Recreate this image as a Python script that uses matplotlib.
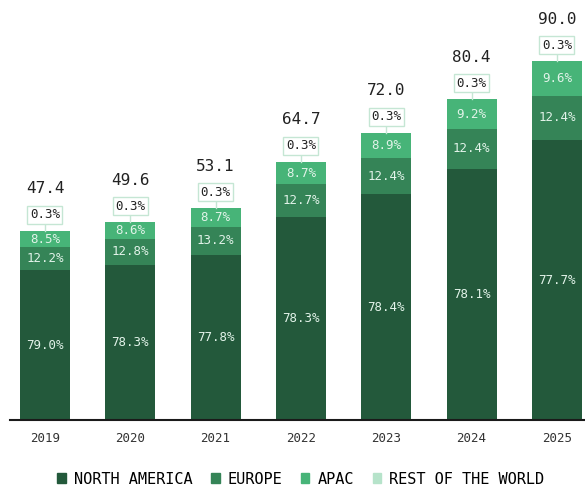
import matplotlib
matplotlib.use("Agg")
import matplotlib.pyplot as plt
import numpy as np

years = ["2019", "2020", "2021", "2022", "2023", "2024", "2025"]
totals = [47.4, 49.6, 53.1, 64.7, 72.0, 80.4, 90.0]
north_america = [79.0, 78.3, 77.8, 78.3, 78.4, 78.1, 77.7]
europe = [12.2, 12.8, 13.2, 12.7, 12.4, 12.4, 12.4]
apac = [8.5, 8.6, 8.7, 8.7, 8.9, 9.2, 9.6]
rest_of_world = [0.3, 0.3, 0.3, 0.3, 0.3, 0.3, 0.3]
series_names = ["NORTH AMERICA", "EUROPE", "APAC", "REST OF THE WORLD"]
colors = ["#23593b", "#358457", "#47b478", "#b6e3ca"]

mono = "DejaVu Sans Mono"

fig = plt.figure(figsize=(5.85, 4.87), dpi=100)
ax = fig.add_axes([10 / 585, 67 / 487, 575 / 585, 420 / 487])

x = np.arange(len(years))
w = 0.586
tot = np.array(totals)
shares = [np.array(north_america), np.array(europe), np.array(apac)]
bottom = np.zeros(len(years))
for s, c in zip(shares, colors[:3]):
    h = tot * s / 100
    ax.bar(x, h, w, bottom=bottom, color=c, linewidth=0)
    for xi, b, hi, si in zip(x, bottom, h, s):
        ax.text(xi, b + hi / 2, f"{si:.1f}%", ha="center", va="center",
                color="#e2f3e9", fontsize=9, family=mono)
    bottom = bottom + h

for xi, b, r, t in zip(x, bottom, rest_of_world, totals):
    ax.plot([xi, xi], [b, b + 2.0], color="#c5e6d4", lw=1)
    ax.text(xi, b + 4.0, f"{r:.1f}%", ha="center", va="center", fontsize=9,
            family=mono, color="#222222",
            bbox=dict(boxstyle="square,pad=0.2", fc="white", ec="#c5e6d4", lw=1))
    ax.text(xi, b + 10.5, f"{t:.1f}", ha="center", va="center", fontsize=11.5,
            family=mono, color="#222222")

ax.set_xlim(-0.41, 6.33)
ax.set_ylim(0, 105)
ax.set_xticks(x)
ax.set_xticklabels(years, family=mono, fontsize=9, color="#333333")
ax.tick_params(axis="x", length=0, pad=9)
ax.set_yticks([])
for sp in ["top", "right", "left"]:
    ax.spines[sp].set_visible(False)
ax.spines["bottom"].set_color("#1a1a1a")
ax.spines["bottom"].set_linewidth(1.5)

handles = [plt.Rectangle((0, 0), 1, 1, color=c) for c in colors]
fig.legend(handles, series_names, loc="center", bbox_to_anchor=(301 / 585, 1 - 479 / 487),
           ncol=4, frameon=False, prop=dict(family=mono, size=11),
           handlelength=0.55, handleheight=0.55, handletextpad=0.55, columnspacing=1.2)

fig.savefig("out.png", dpi=100)
